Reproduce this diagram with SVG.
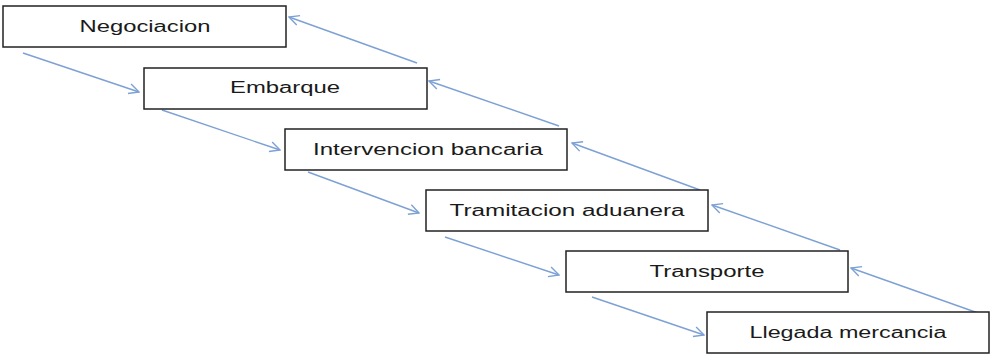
<svg xmlns="http://www.w3.org/2000/svg" width="990" height="354" viewBox="0 0 990 354">
<defs>
<style>
.box{fill:#fff;stroke:#222;stroke-width:1.5}
.lbl{font-family:"Liberation Sans","DejaVu Sans",sans-serif;font-size:16px;fill:#1a1a1a;text-anchor:middle}
.arr{fill:none;stroke:#7da1d4;stroke-width:1.4;marker-end:url(#ah)}
</style>
<marker id="ah" viewBox="0 0 12 12" refX="11" refY="6" markerWidth="12" markerHeight="12" markerUnits="userSpaceOnUse" orient="auto">
<polyline points="1,1 11,6 1,11" fill="none" stroke="#7da1d4" stroke-width="1.4"/>
</marker>
</defs>
<g id="connectors">
<line class="arr" x1="23" y1="53" x2="139" y2="92"/>
<line class="arr" x1="162" y1="110" x2="280" y2="150"/>
<line class="arr" x1="308" y1="172" x2="419" y2="213"/>
<line class="arr" x1="445" y1="237" x2="559" y2="275"/>
<line class="arr" x1="592" y1="297" x2="704" y2="335"/>
<line class="arr" x1="417" y1="63" x2="289" y2="17"/>
<line class="arr" x1="559" y1="126" x2="429" y2="81"/>
<line class="arr" x1="700" y1="190" x2="572" y2="143"/>
<line class="arr" x1="840" y1="250" x2="712" y2="205"/>
<line class="arr" x1="978" y1="313" x2="851" y2="268"/>
</g>
<g id="n1"><rect class="box" x="3" y="6" width="283" height="41"/><text class="lbl" x="145" y="32" textLength="131" lengthAdjust="spacingAndGlyphs">Negociacion</text></g>
<g id="n2"><rect class="box" x="144" y="68" width="283" height="41"/><text class="lbl" x="285" y="93" textLength="110" lengthAdjust="spacingAndGlyphs">Embarque</text></g>
<g id="n3"><rect class="box" x="285" y="129" width="282" height="41"/><text class="lbl" x="428" y="155" textLength="230" lengthAdjust="spacingAndGlyphs">Intervencion bancaria</text></g>
<g id="n4"><rect class="box" x="426" y="190" width="282" height="41"/><text class="lbl" x="567" y="216" textLength="235" lengthAdjust="spacingAndGlyphs">Tramitacion aduanera</text></g>
<g id="n5"><rect class="box" x="566" y="251" width="282" height="41"/><text class="lbl" x="707" y="277" textLength="115" lengthAdjust="spacingAndGlyphs">Transporte</text></g>
<g id="n6"><rect class="box" x="707" y="312" width="282" height="41"/><text class="lbl" x="848" y="338" textLength="197" lengthAdjust="spacingAndGlyphs">Llegada mercancia</text></g>
</svg>
